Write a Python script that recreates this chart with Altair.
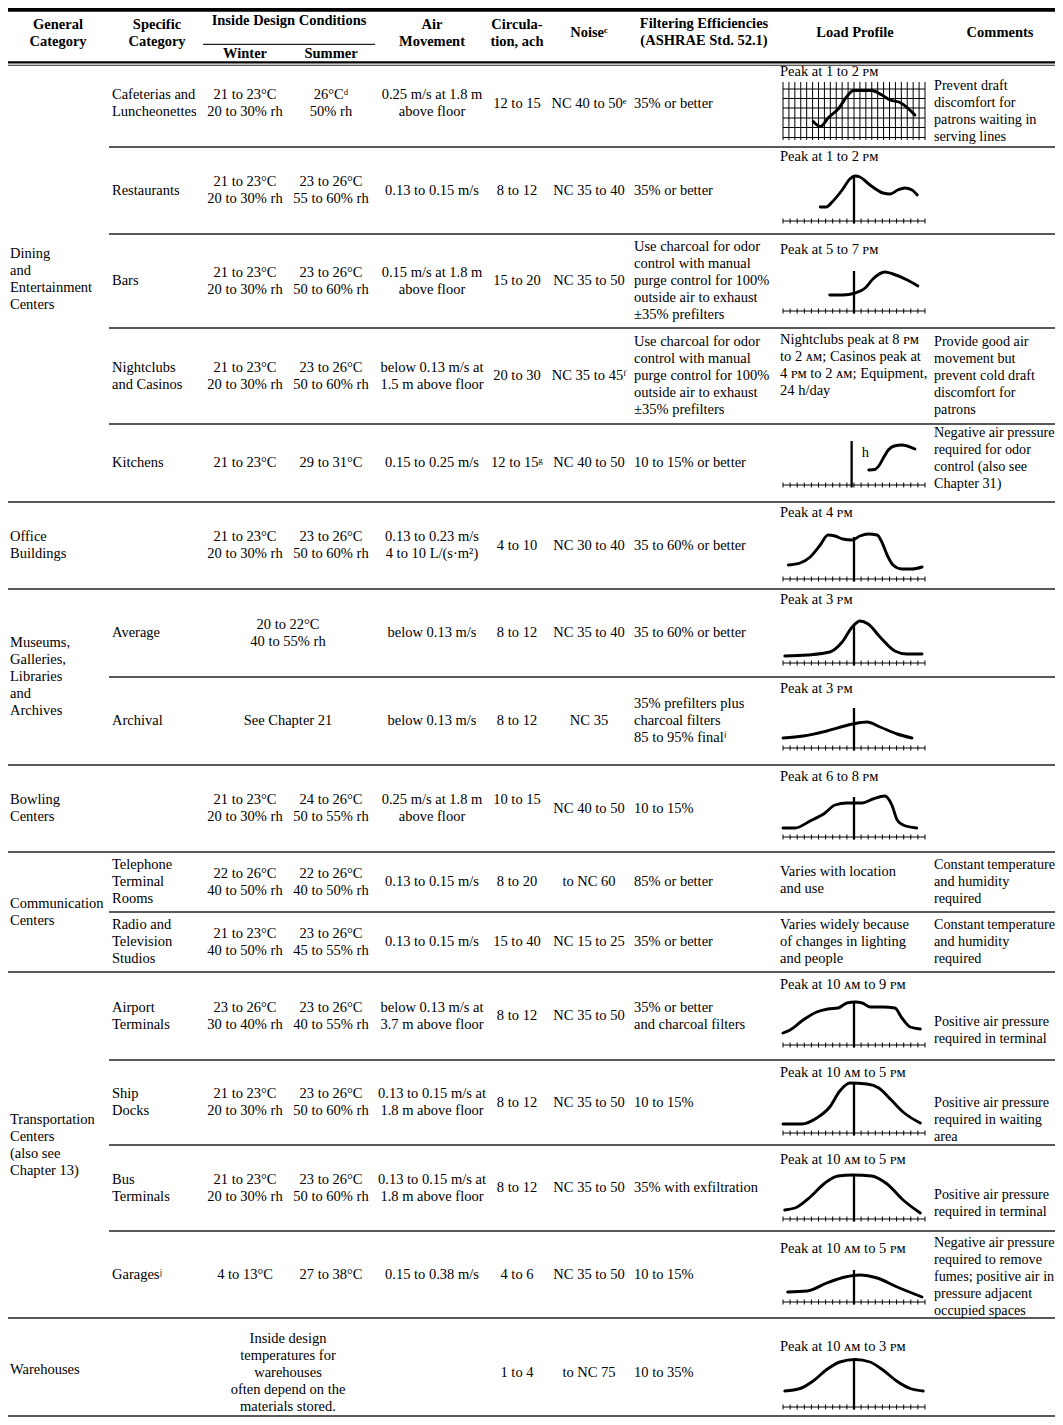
import altair as alt
import pandas as pd

# ------------------------------------------------------------------ content
HEADERS = ["General\nCategory", "Specific\nCategory", "Inside Design Conditions",
           "Winter", "Summer", "Air\nMovement", "Circula-\ntion, ach", "Noiseᶜ",
           "Filtering Efficiencies\n(ASHRAE Std. 52.1)", "Load Profile", "Comments"]

GENERAL = ["Dining\nand\nEntertainment\nCenters", "Office\nBuildings",
           "Museums,\nGalleries,\nLibraries\nand\nArchives", "Bowling\nCenters",
           "Communication\nCenters", "Transportation\nCenters\n(also see\nChapter 13)",
           "Warehouses"]
GROUP_SIZES = [5, 1, 2, 1, 2, 4, 1]

SPECIFIC = ["Cafeterias and\nLuncheonettes", "Restaurants", "Bars", "Nightclubs\nand Casinos",
            "Kitchens", "", "Average", "Archival", "", "Telephone\nTerminal\nRooms",
            "Radio and\nTelevision\nStudios", "Airport\nTerminals", "Ship\nDocks",
            "Bus\nTerminals", "Garagesʲ", ""]

WINTER = ["21 to 23°C\n20 to 30% rh", "21 to 23°C\n20 to 30% rh", "21 to 23°C\n20 to 30% rh",
          "21 to 23°C\n20 to 30% rh", "21 to 23°C", "21 to 23°C\n20 to 30% rh", "", "",
          "21 to 23°C\n20 to 30% rh", "22 to 26°C\n40 to 50% rh", "21 to 23°C\n40 to 50% rh",
          "23 to 26°C\n30 to 40% rh", "21 to 23°C\n20 to 30% rh", "21 to 23°C\n20 to 30% rh",
          "4 to 13°C", ""]

SUMMER = ["26°Cᵈ\n50% rh", "23 to 26°C\n55 to 60% rh", "23 to 26°C\n50 to 60% rh",
          "23 to 26°C\n50 to 60% rh", "29 to 31°C", "23 to 26°C\n50 to 60% rh", "", "",
          "24 to 26°C\n50 to 55% rh", "22 to 26°C\n40 to 50% rh", "23 to 26°C\n45 to 55% rh",
          "23 to 26°C\n40 to 55% rh", "23 to 26°C\n50 to 60% rh", "23 to 26°C\n50 to 60% rh",
          "27 to 38°C", ""]

CONDITIONS_MERGED = ["", "", "", "", "", "", "20 to 22°C\n40 to 55% rh", "See Chapter 21",
                     "", "", "", "", "", "", "",
                     "Inside design\ntemperatures for\nwarehouses\noften depend on the\nmaterials stored."]

AIR = ["0.25 m/s at 1.8 m\nabove floor", "0.13 to 0.15 m/s", "0.15 m/s at 1.8 m\nabove floor",
       "below 0.13 m/s at\n1.5 m above floor", "0.15 to 0.25 m/s",
       "0.13 to 0.23 m/s\n4 to 10 L/(s·m²)", "below 0.13 m/s", "below 0.13 m/s",
       "0.25 m/s at 1.8 m\nabove floor", "0.13 to 0.15 m/s", "0.13 to 0.15 m/s",
       "below 0.13 m/s at\n3.7 m above floor", "0.13 to 0.15 m/s at\n1.8 m above floor",
       "0.13 to 0.15 m/s at\n1.8 m above floor", "0.15 to 0.38 m/s", ""]

CIRCULATION = ["12 to 15", "8 to 12", "15 to 20", "20 to 30", "12 to 15ᵍ", "4 to 10", "8 to 12",
               "8 to 12", "10 to 15", "8 to 20", "15 to 40", "8 to 12", "8 to 12", "8 to 12",
               "4 to 6", "1 to 4"]

NOISE = ["NC 40 to 50ᵉ", "NC 35 to 40", "NC 35 to 50", "NC 35 to 45ᶠ", "NC 40 to 50",
         "NC 30 to 40", "NC 35 to 40", "NC 35", "NC 40 to 50", "to NC 60", "NC 15 to 25",
         "NC 35 to 50", "NC 35 to 50", "NC 35 to 50", "NC 35 to 50", "to NC 75"]

CHARCOAL = ("Use charcoal for odor\ncontrol with manual\npurge control for 100%\n"
            "outside air to exhaust\n±35% prefilters")
FILTERING = ["35% or better", "35% or better", CHARCOAL, CHARCOAL, "10 to 15% or better",
             "35 to 60% or better", "35 to 60% or better",
             "35% prefilters plus\ncharcoal filters\n85 to 95% finalⁱ", "10 to 15%",
             "85% or better", "35% or better", "35% or better\nand charcoal filters",
             "10 to 15%", "35% with exfiltration", "10 to 15%", "10 to 35%"]

LOAD_TEXT = ["Peak at 1 to 2 ᴘᴍ", "Peak at 1 to 2 ᴘᴍ", "Peak at 5 to 7 ᴘᴍ",
             "Nightclubs peak at 8 ᴘᴍ\nto 2 ᴀᴍ; Casinos peak at\n4 ᴘᴍ to 2 ᴀᴍ; Equipment,\n24 h/day",
             "", "Peak at 4 ᴘᴍ", "Peak at 3 ᴘᴍ", "Peak at 3 ᴘᴍ", "Peak at 6 to 8 ᴘᴍ",
             "Varies with location\nand use",
             "Varies widely because\nof changes in lighting\nand people",
             "Peak at 10 ᴀᴍ to 9 ᴘᴍ", "Peak at 10 ᴀᴍ to 5 ᴘᴍ", "Peak at 10 ᴀᴍ to 5 ᴘᴍ",
             "Peak at 10 ᴀᴍ to 5 ᴘᴍ", "Peak at 10 ᴀᴍ to 3 ᴘᴍ"]

COMMENTS = ["Prevent draft\ndiscomfort for\npatrons waiting in\nserving lines", "", "",
            "Provide good air\nmovement but\nprevent cold draft\ndiscomfort for\npatrons",
            "Negative air pressure\nrequired for odor\ncontrol (also see\nChapter 31)",
            "", "", "", "", "Constant\u2009temperature\nand humidity\nrequired",
            "Constant\u2009temperature\nand humidity\nrequired",
            "Positive air pressure\nrequired in terminal",
            "Positive air pressure\nrequired in waiting\narea",
            "Positive air pressure\nrequired in terminal",
            "Negative air pressure\nrequired to remove\nfumes; positive air in\npressure adjacent\noccupied spaces",
            ""]

# load profile sketches: hour of day (0-24, noon in the middle) and relative load
CAFE_H = [5.1, 6.3, 7.7, 9.4, 10.8, 11.9, 15.0, 16.7, 18.1, 19.8, 22.3]
CAFE_L = [0.37, 0.27, 0.45, 0.63, 0.87, 0.99, 0.99, 0.90, 0.80, 0.75, 0.50]
REST_H = [6.3, 7.3, 8.3, 10.0, 11.3, 12.2, 13.0, 14.7, 16.9, 18.1, 19.4, 20.6, 21.8, 22.7]
REST_L = [0.28, 0.28, 0.38, 0.62, 0.84, 0.90, 0.88, 0.72, 0.56, 0.54, 0.62, 0.66, 0.62, 0.52]
BARS_H = [7.9, 10.1, 12.2, 13.9, 15.2, 17.2, 18.6, 21.0, 22.8]
BARS_L = [0.32, 0.32, 0.36, 0.46, 0.64, 0.78, 0.74, 0.62, 0.50]
KITCH_H = [14.5, 15.5, 16.3, 17.0, 17.8, 18.8, 20.1, 21.0, 22.3]
KITCH_L = [0.30, 0.31, 0.40, 0.55, 0.70, 0.78, 0.80, 0.78, 0.72]
OFFICE_H = [0.9, 2.9, 4.6, 6.3, 7.6, 8.8, 10.1, 11.7, 13.0, 14.4, 15.9, 16.7, 17.6, 18.6, 20.1, 21.8, 23.5]
OFFICE_L = [0.28, 0.32, 0.44, 0.68, 0.88, 0.86, 0.80, 0.78, 0.86, 0.90, 0.88, 0.74, 0.48, 0.28, 0.20, 0.20, 0.24]
MUSEUM_H = [0.3, 4.1, 7.9, 10.0, 11.7, 13.0, 14.4, 16.4, 18.9, 20.9, 23.5]
MUSEUM_L = [0.14, 0.16, 0.22, 0.42, 0.72, 0.84, 0.78, 0.52, 0.24, 0.18, 0.18]
ARCHIVE_H = [0.0, 3.4, 7.4, 11.8, 14.2, 16.4, 19.3, 21.8]
ARCHIVE_L = [0.20, 0.24, 0.34, 0.48, 0.52, 0.42, 0.28, 0.20]
BOWL_H = [0.0, 2.0, 4.6, 7.1, 8.8, 10.8, 13.4, 15.2, 17.2, 18.4, 19.3, 20.3, 22.6]
BOWL_L = [0.18, 0.18, 0.32, 0.48, 0.64, 0.68, 0.68, 0.76, 0.82, 0.64, 0.34, 0.24, 0.18]
AIRPORT_H = [0.0, 1.2, 3.4, 5.7, 7.6, 9.3, 10.8, 12.2, 13.4, 14.7, 16.9, 18.9, 20.1, 21.5, 23.2]
AIRPORT_L = [0.24, 0.30, 0.50, 0.66, 0.72, 0.74, 0.84, 0.86, 0.84, 0.76, 0.76, 0.74, 0.54, 0.36, 0.32]
SHIP_H = [0.0, 3.2, 5.7, 7.9, 9.6, 11.3, 14.2, 16.2, 18.3, 20.5, 23.2]
SHIP_L = [0.18, 0.18, 0.30, 0.52, 0.84, 1.00, 0.98, 0.90, 0.66, 0.40, 0.20]
BUS_H = [0.3, 2.4, 4.6, 7.1, 9.3, 11.8, 15.0, 17.6, 20.3, 23.2]
BUS_L = [0.18, 0.24, 0.44, 0.72, 0.86, 0.88, 0.86, 0.70, 0.38, 0.12]
GARAGE_H = [0.8, 4.1, 7.4, 10.5, 13.0, 15.9, 19.3, 23.5]
GARAGE_L = [0.20, 0.22, 0.38, 0.50, 0.54, 0.48, 0.30, 0.10]
WARE_H = [0.3, 2.9, 5.1, 7.4, 9.6, 12.2, 14.7, 17.0, 19.2, 21.5, 23.7]
WARE_L = [0.32, 0.37, 0.52, 0.75, 0.90, 0.95, 0.90, 0.73, 0.52, 0.37, 0.32]

PROFILE_ROWS = [0, 1, 2, 4, 5, 6, 7, 8, 11, 12, 13, 14, 15]
PROFILE_HOURS = [CAFE_H, REST_H, BARS_H, KITCH_H, OFFICE_H, MUSEUM_H, ARCHIVE_H, BOWL_H,
                 AIRPORT_H, SHIP_H, BUS_H, GARAGE_H, WARE_H]
PROFILE_LOADS = [CAFE_L, REST_L, BARS_L, KITCH_L, OFFICE_L, MUSEUM_L, ARCHIVE_L, BOWL_L,
                 AIRPORT_L, SHIP_L, BUS_L, GARAGE_L, WARE_L]
NOON_TOP = [0, 0.92, 0.80, 0.88, 0.84, 0.76, 0.80, 0.80, 0.86, 1.00, 0.88, 0.64, 0.97]
NOON_HOUR = [12, 12, 12, 11.6, 12, 12, 12, 12, 12, 12, 12, 12, 12]
GRID_LEVELS = [0.05, 0.25, 0.44, 0.64, 0.83, 1.02]
KITCHEN_MARK = "h"

# ------------------------------------------------------------------ layout
FONT = "Liberation Serif"
FS = 14.5
LH = 17
ROW_EDGES = [65, 147, 234, 328, 424, 502, 589, 677, 765, 852, 912, 972, 1060, 1145, 1231, 1318, 1416]
HEADER_POS = [(58, 33.5), (157, 33.5), (289, 21), (245, 53.5), (331, 53.5), (432, 33.5),
              (517, 33.5), (589, 32.5), (704, 32), (855, 32.5), (1000, 32.5)]
COL_X = dict(general=10, specific=112, winter=245, summer=331, merged=288, air=432,
             circ=517, noise=589, filt=634, load=780, comment=934)
ROW_DY = [-2.5, 0, 0, 0, 0, 0, 0, 0, 0, 0, 0, 0, 0, 0, 0, 5.5]
GROUP_DY = [-4, 0, 0, 0, 0, 0, 3]
LOAD_TOP = [7.4, 10, 16, 12, 0, 11, 11, 12, 12, 20, 13, 13, 13, 15, 18, 29]
COMMENT_DY = [5.5, 0, 0, 0, -5, 0, 0, 0, 0, 0, 0, 14, 17, 15, 2, 0]
CELL_DY = {(8, "circ"): -8.5}
AXIS_UP = [7, 13, 17, 17, 10, 14, 17, 15, 15, 12, 12, 16, 9]  # axis height above row bottom
LOAD_PX = 50
AX0, AX1 = 783, 925
PARTIAL_X = 109
W, H = 1047, 1409


def hx(h):
    return AX0 + h * (AX1 - AX0) / 24


def nlines(t):
    return t.count("\n") + 1


def first_line_y(center, t):
    return center - (nlines(t) - 1) * LH / 2


def mid(r):
    return (ROW_EDGES[r] + ROW_EDGES[r + 1]) / 2


# ------------------------------------------------------------------ tables
header_rows = [dict(x=p[0], y=first_line_y(p[1], t), t=t) for t, p in zip(HEADERS, HEADER_POS)]

center_rows, left_rows, comment_rows = [], [], []
for r in range(16):
    for key, col in (("winter", WINTER), ("summer", SUMMER), ("merged", CONDITIONS_MERGED),
                     ("air", AIR), ("circ", CIRCULATION), ("noise", NOISE)):
        if col[r]:
            c = mid(r) + ROW_DY[r] + CELL_DY.get((r, key), 0)
            center_rows.append(dict(x=COL_X[key], y=first_line_y(c, col[r]), t=col[r]))
    for key, col in (("specific", SPECIFIC), ("filt", FILTERING)):
        if col[r]:
            left_rows.append(dict(x=COL_X[key], y=first_line_y(mid(r) + ROW_DY[r], col[r]),
                                  t=col[r]))
    if COMMENTS[r]:
        comment_rows.append(dict(x=COL_X["comment"],
                                 y=first_line_y(mid(r) + COMMENT_DY[r], COMMENTS[r]),
                                 t=COMMENTS[r]))
    if LOAD_TEXT[r]:
        left_rows.append(dict(x=COL_X["load"], y=ROW_EDGES[r] + LOAD_TOP[r], t=LOAD_TEXT[r]))

start = 0
for g, size, gdy in zip(GENERAL, GROUP_SIZES, GROUP_DY):
    c = (ROW_EDGES[start] + ROW_EDGES[start + size]) / 2 + gdy
    left_rows.append(dict(x=COL_X["general"], y=first_line_y(c, g), t=g))
    start += size

rules = []


def rule(x1, x2, y1, y2, w, c="#222"):
    rules.append(dict(x=x1, x2=x2, y=y1, y2=y2, w=w, c=c))


rule(7, 1063, 9.9, 9.9, 3.6, "#000")
rule(203, 375, 44.3, 44.3, 1.3)
rule(7, 1063, 62.3, 62.3, 2.2, "#000")
rule(7, 1063, 65.3, 65.3, 1.1)
bounds = set()
acc = 0
for size in GROUP_SIZES:
    acc += size
    bounds.add(acc)
for k in range(1, 17):
    y = ROW_EDGES[k]
    rule(7 if k in bounds else PARTIAL_X, 1063, y, y, 1.4)

line_rows, mark_rows = [], []
for i, r in enumerate(PROFILE_ROWS):
    axis_y = ROW_EDGES[r + 1] - AXIS_UP[i]
    if i == 0:
        for k in range(25):
            rule(hx(k), hx(k), axis_y, axis_y - 1.16 * LOAD_PX, 1.0, "#000")
        for lv in GRID_LEVELS:
            rule(hx(0), hx(24), axis_y - lv * LOAD_PX, axis_y - lv * LOAD_PX, 1.0, "#000")
    else:
        rule(hx(0), hx(24), axis_y, axis_y, 1.0, "#000")
        for k in range(21):
            rule(hx(k * 1.2), hx(k * 1.2), axis_y - 2.5, axis_y + 2.5, 1.0, "#000")
        rule(hx(NOON_HOUR[i]), hx(NOON_HOUR[i]), axis_y + 2.5,
             axis_y - NOON_TOP[i] * LOAD_PX, 2.3, "#000")
    for o, (h, l) in enumerate(zip(PROFILE_HOURS[i], PROFILE_LOADS[i])):
        line_rows.append(dict(x=hx(h), y=axis_y - l * LOAD_PX, pid=i, o=o))
    if r == 4:
        mark_rows.append(dict(x=hx(13.3), y=axis_y - 0.64 * LOAD_PX, t=KITCHEN_MARK))

# ------------------------------------------------------------------ chart
XS = alt.Scale(domain=[8, 8 + W], nice=False, zero=False)
YS = alt.Scale(domain=[8, 8 + H], nice=False, zero=False, reverse=True)
X = alt.X("x:Q", scale=XS, axis=None)
Y = alt.Y("y:Q", scale=YS, axis=None)

rule_layer = alt.Chart(pd.DataFrame(rules)).mark_rule().encode(
    x=X, x2="x2:Q", y=Y, y2="y2:Q",
    strokeWidth=alt.StrokeWidth("w:Q", scale=None, legend=None),
    color=alt.Color("c:N", scale=None, legend=None))

curve_layer = alt.Chart(pd.DataFrame(line_rows)).mark_line(
    interpolate="monotone", strokeWidth=2.9, color="#000", strokeCap="round",
    strokeJoin="round").encode(x=X, y=Y, detail="pid:N", order="o:Q")


def text_layer(rows, align, bold=False, size=FS):
    return alt.Chart(pd.DataFrame(rows)).mark_text(
        align=align, baseline="middle", font=FONT, fontSize=size, lineBreak="\n",
        lineHeight=LH, color="#000", fontWeight="bold" if bold else "normal"
    ).encode(x=X, y=Y, text="t:N")


chart = alt.layer(
    rule_layer,
    curve_layer,
    text_layer(header_rows, "center", bold=True),
    text_layer(center_rows, "center"),
    text_layer(left_rows, "left"),
    text_layer(comment_rows, "left", size=14.2),
    text_layer(mark_rows, "left"),
).properties(
    width=W, height=H, padding=0,
    autosize=alt.AutoSizeParams(type="none"),
).configure_view(stroke=None)

chart.save("out.html", embed_options={"renderer": "svg", "actions": False})
